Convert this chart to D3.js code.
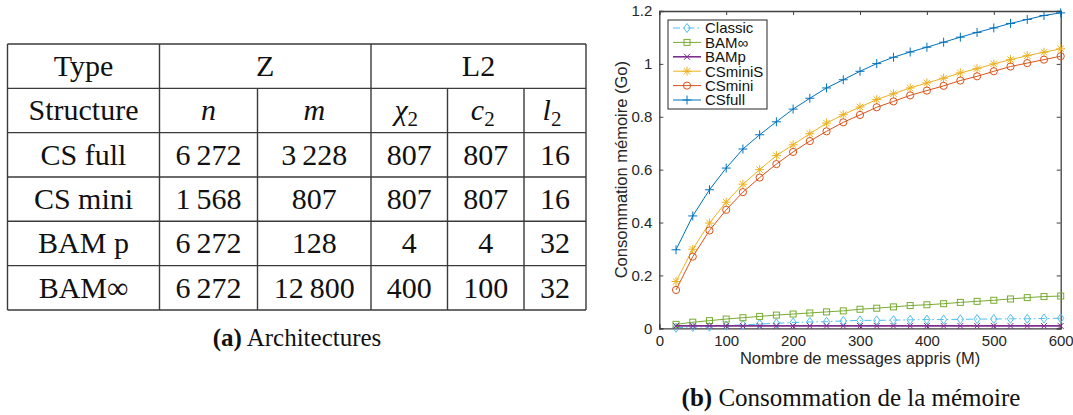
<!DOCTYPE html>
<html><head><meta charset="utf-8">
<script src="https://cdn.jsdelivr.net/npm/d3@7"></script>
<style>html,body{margin:0;padding:0;background:#fff;}svg{display:block;}</style>
</head><body>
<script>
// ---------- DATA ----------
const typeHeaders = ["Type", "Z", "L2"];
const structureHeader = "Structure";
const paramHeaders = [["n", ""], ["m", ""], ["χ", "2"], ["c", "2"], ["l", "2"]];
const structures = ["CS full", "CS mini", "BAM p", "BAM∞"];
const colN   = ["6\u2009272", "1\u2009568", "6\u2009272", "6\u2009272"];
const colM   = ["3\u2009228", "807", "128", "12\u2009800"];
const colChi = ["807", "807", "4", "400"];
const colC   = ["807", "807", "4", "100"];
const colL   = ["16", "16", "32", "32"];

const messages = [25,50,75,100,125,150,175,200,225,250,275,300,325,350,375,400,425,450,475,500,525,550,575,600];
const classic = [0.002,0.005,0.006,0.010,0.013,0.016,0.019,0.022,0.024,0.025,0.028,0.030,0.030,0.031,0.032,0.033,0.033,0.034,0.035,0.035,0.036,0.036,0.037,0.038];
const bamInf  = [0.015,0.023,0.029,0.035,0.040,0.045,0.050,0.054,0.058,0.062,0.066,0.072,0.076,0.081,0.086,0.089,0.093,0.098,0.102,0.106,0.111,0.116,0.120,0.122];
const bamP    = [0.009,0.009,0.009,0.009,0.009,0.009,0.009,0.009,0.009,0.009,0.009,0.009,0.009,0.009,0.009,0.009,0.009,0.009,0.009,0.009,0.009,0.009,0.009,0.009];
const csMiniS = [0.177,0.299,0.398,0.477,0.545,0.600,0.653,0.694,0.736,0.776,0.808,0.837,0.865,0.887,0.909,0.928,0.946,0.966,0.982,1.000,1.016,1.031,1.044,1.057];
const csMini  = [0.145,0.271,0.370,0.448,0.515,0.570,0.621,0.667,0.708,0.745,0.779,0.807,0.836,0.858,0.881,0.899,0.917,0.937,0.953,0.972,0.990,1.003,1.016,1.029];
const csFull  = [0.297,0.425,0.524,0.606,0.678,0.732,0.781,0.829,0.870,0.909,0.940,0.972,1.001,1.025,1.045,1.063,1.082,1.101,1.119,1.136,1.153,1.168,1.183,1.193];
const seriesNames = ["Classic", "BAM∞", "BAMp", "CSminiS", "CSmini", "CSfull"];
const xTicks = [0,100,200,300,400,500,600];
const yTicks = [0,0.2,0.4,0.6,0.8,1,1.2];
const captionA = ["(a)", " Architectures"];
const captionB = ["(b)", " Consommation de la mémoire"];
const xLabel = "Nombre de messages appris (M)";
const yLabel = "Consommation mémoire (Go)";

// ---------- SVG ----------
const W = 1073, H = 415;
const svg = d3.select("body").append("svg").attr("width", W).attr("height", H);
svg.append("rect").attr("width", W).attr("height", H).attr("fill", "#fff");

// ---------- TABLE ----------
const colEdges = [7.5, 159.5, 257.5, 371, 447.5, 524, 586];
const rowTop = 44, rowH = 44.33, nRows = 6;
const serif = "'Liberation Serif','DejaVu Serif',serif";
const tFont = 30;
const tbl = svg.append("g").attr("font-family", serif).attr("font-size", tFont).attr("fill", "#111");
const lineCol = "#3a3a3a";
const rowY = i => rowTop + i * rowH;
const colC_ = j => (colEdges[j] + colEdges[j + 1]) / 2;
const baseY = i => rowY(i) + rowH / 2 + tFont * 0.33;

tbl.selectAll("line.h").data(d3.range(nRows + 1)).join("line")
  .attr("x1", colEdges[0]).attr("x2", colEdges[6])
  .attr("y1", rowY).attr("y2", rowY)
  .attr("stroke", lineCol).attr("stroke-width", 1.4);
colEdges.forEach((xx, j) => {
  const full = (j === 0 || j === 1 || j === 3 || j === 6);
  tbl.append("line").attr("x1", xx).attr("x2", xx)
    .attr("y1", full ? rowY(0) : rowY(1)).attr("y2", rowY(nRows))
    .attr("stroke", lineCol).attr("stroke-width", 1.4);
});
const headCenters = [colC_(0), (colEdges[1] + colEdges[3]) / 2, (colEdges[3] + colEdges[6]) / 2];
tbl.selectAll("text.th").data(typeHeaders).join("text")
  .attr("x", (d, i) => headCenters[i]).attr("y", baseY(0))
  .attr("text-anchor", "middle").text(d => d);
tbl.append("text").attr("x", colC_(0)).attr("y", baseY(1)).attr("text-anchor", "middle").text(structureHeader);
paramHeaders.forEach((p, k) => {
  const t = tbl.append("text").attr("x", colC_(k + 1) + (p[1] ? -3 : 0)).attr("y", baseY(1)).attr("text-anchor", "middle");
  t.append("tspan").attr("font-style", "italic").text(p[0]);
  if (p[1]) t.append("tspan").attr("font-size", tFont * 0.7).attr("dy", 6).text(p[1]);
});
const cols = [structures, colN, colM, colChi, colC, colL];
cols.forEach((col, j) => {
  tbl.selectAll(null).data(col).join("text")
    .attr("x", colC_(j)).attr("y", (d, i) => baseY(i + 2))
    .attr("text-anchor", "middle").text(d => d);
});
const capA = svg.append("text").attr("x", 297).attr("y", 346).attr("text-anchor", "middle")
  .attr("font-family", serif).attr("font-size", 25).attr("fill", "#111");
capA.append("tspan").attr("font-weight", "bold").text(captionA[0]);
capA.append("tspan").text(captionA[1]);

// ---------- CHART ----------
const sans = "'Liberation Sans',Arial,Helvetica,sans-serif";
const x = d3.scaleLinear().domain([0, 600]).range([659.3, 1060.7]);
const y = d3.scaleLinear().domain([0, 1.2]).range([328.3, 11]);
const ch = svg.append("g").attr("font-family", sans);
const axCol = "#404040";

const tl = 4;
ch.append("g").attr("transform", `translate(0,${y(0)})`)
  .call(d3.axisBottom(x).tickValues(xTicks).tickSize(-tl).tickPadding(7).tickFormat(d3.format("d")));
ch.append("g").attr("transform", `translate(0,${y(1.2)})`)
  .call(d3.axisTop(x).tickValues(xTicks).tickSize(-tl).tickFormat(""));
ch.append("g").attr("transform", `translate(${x(0)},0)`)
  .call(d3.axisLeft(y).tickValues(yTicks).tickSize(-tl).tickPadding(7).tickFormat(d => d3.format("~g")(d)));
ch.append("g").attr("transform", `translate(${x(600)},0)`)
  .call(d3.axisRight(y).tickValues(yTicks).tickSize(-tl).tickFormat(""));
ch.selectAll(".domain").attr("stroke", axCol).attr("stroke-width", 1.3);
ch.selectAll(".tick line").attr("stroke", axCol).attr("stroke-width", 1);
ch.selectAll(".tick text").attr("font-family", sans).attr("font-size", 15).attr("fill", "#262626");

ch.append("text").attr("x", (x(0) + x(600)) / 2).attr("y", 364).attr("text-anchor", "middle")
  .attr("font-size", 16.5).attr("fill", "#262626").text(xLabel);
ch.append("text").attr("transform", `translate(627,${(y(0) + y(1.2)) / 2}) rotate(-90)`)
  .attr("text-anchor", "middle").attr("font-size", 16.5).attr("fill", "#262626").text(yLabel);

function marker(g, type, cx, cy, color) {
  const s = g.append("g").attr("transform", `translate(${cx},${cy})`)
    .attr("stroke", color).attr("fill", "none").attr("stroke-width", 1);
  if (type === "diamond") s.append("path").attr("d", "M0,-4.5L3.2,0L0,4.5L-3.2,0Z");
  else if (type === "square") s.append("rect").attr("x", -3).attr("y", -3).attr("width", 6).attr("height", 6);
  else if (type === "x") s.append("path").attr("d", "M-3,-3L3,3M-3,3L3,-3");
  else if (type === "star") s.append("path").attr("d", "M0,-4.5L0,4.5M-4.5,0L4.5,0M-3.2,-3.2L3.2,3.2M-3.2,3.2L3.2,-3.2");
  else if (type === "circle") s.append("circle").attr("r", 3.6);
  else if (type === "plus") s.append("path").attr("d", "M0,-4.5L0,4.5M-4.5,0L4.5,0");
}

const series = [
  {name: seriesNames[0], vals: classic, color: "#4DBEEE", m: "diamond", dash: "7,3,1.5,3", w: 1},
  {name: seriesNames[1], vals: bamInf,  color: "#77AC30", m: "square", dash: null, w: 1},
  {name: seriesNames[2], vals: bamP,    color: "#7E2F8E", m: "x", dash: null, w: 1.6},
  {name: seriesNames[3], vals: csMiniS, color: "#EDB120", m: "star", dash: null, w: 1},
  {name: seriesNames[4], vals: csMini,  color: "#D95319", m: "circle", dash: null, w: 1},
  {name: seriesNames[5], vals: csFull,  color: "#0072BD", m: "plus", dash: null, w: 1}
];
const line = d3.line().x(d => x(d[0])).y(d => y(d[1]));
const plot = ch.append("g");
series.forEach(s => {
  const pts = messages.map((m, i) => [m, s.vals[i]]);
  const p = plot.append("path").attr("d", line(pts)).attr("fill", "none")
    .attr("stroke", s.color).attr("stroke-width", s.w);
  if (s.dash) p.attr("stroke-dasharray", s.dash);
  pts.forEach(d => marker(plot, s.m, x(d[0]), y(d[1]), s.color));
});

const lg = ch.append("g");
lg.append("rect").attr("x", 668).attr("y", 20).attr("width", 99).attr("height", 89)
  .attr("fill", "#fff").attr("stroke", "#262626").attr("stroke-width", 1);
series.forEach((s, i) => {
  const ly = 28 + i * 14.4;
  const l = lg.append("line").attr("x1", 673).attr("x2", 701).attr("y1", ly).attr("y2", ly)
    .attr("stroke", s.color).attr("stroke-width", s.w);
  if (s.dash) l.attr("stroke-dasharray", s.dash);
  marker(lg, s.m, 687, ly, s.color);
  lg.append("text").attr("x", 705).attr("y", ly + 5.3).attr("font-size", 15).attr("fill", "#111").text(s.name);
});

const capB = svg.append("text").attr("x", 851).attr("y", 406).attr("text-anchor", "middle")
  .attr("font-family", serif).attr("font-size", 25).attr("fill", "#111");
capB.append("tspan").attr("font-weight", "bold").text(captionB[0]);
capB.append("tspan").text(captionB[1]);
</script>
</body></html>
